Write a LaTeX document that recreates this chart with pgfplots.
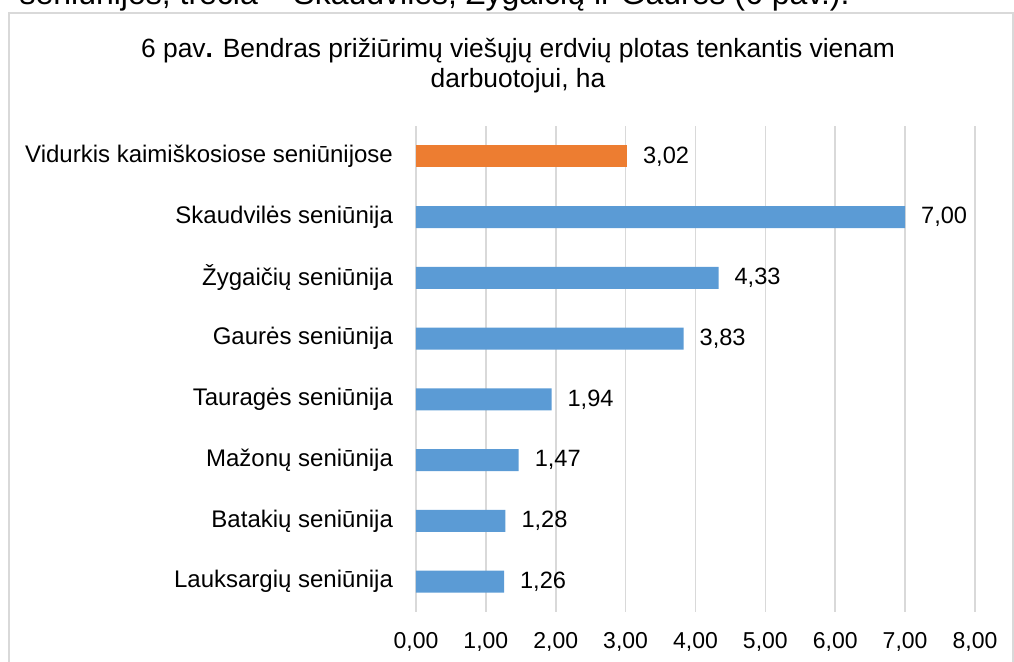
\documentclass[border=0pt]{standalone}
\usepackage{fontspec}
\setmainfont{Liberation Sans}
\usepackage{pgfplots}
\pgfplotsset{compat=1.18}
\definecolor{BarBlue}{HTML}{5B9BD5}
\definecolor{BarOrange}{HTML}{ED7D31}
\definecolor{GridGray}{HTML}{D9D9D9}
\begin{document}
\fontsize{11.5}{13.8}\selectfont
\begin{tikzpicture}[x=1pt,y=1pt]
\useasboundingbox (0,0) rectangle (507,331);
\begin{scope}
  \clip (0,0) rectangle (507,331);
  \draw[GridGray, line width=1pt] (4.5,-10) -- (4.5,324.5) -- (506.5,324.5) -- (506.5,-10);
  \node[anchor=base east, inner sep=0pt, font=\fontsize{16}{19}\selectfont] at (425,328.5)
    {seniūnijos, trečia – Skaudvilės, Žygaičių ir Gaurės (6 pav.).};
\end{scope}
\node[anchor=base, inner sep=0pt, font=\fontsize{13.2}{15.8}\selectfont] at (259,302)
  {6 pav\textbf{.} Bendras prižiūrimų viešųjų erdvių plotas tenkantis vienam};
\node[anchor=base, inner sep=0pt, font=\fontsize{13.2}{15.8}\selectfont] at (259,287) {darbuotojui, ha};
\begin{axis}[
  at={(208pt,25pt)}, anchor=south west,
  scale only axis,
  width=279.5pt, height=243pt,
  xbar, bar width=11pt, bar shift=0pt,
  xmin=0, xmax=8, ymin=-0.5, ymax=7.5,
  axis line style={draw=none},
  major tick length=0pt,
  xmajorgrids,
  grid style={GridGray, line width=0.8pt},
  xtick={0,1,...,8},
  ytick={0,1,...,7},
  yticklabels={Lauksargių seniūnija, Batakių seniūnija, Mažonų seniūnija,
    Tauragės seniūnija, Gaurės seniūnija, Žygaičių seniūnija,
    Skaudvilės seniūnija, Vidurkis kaimiškosiose seniūnijose},
  yticklabel style={xshift=-7.5pt, font=\fontsize{12}{14.4}\selectfont},
  xticklabel style={yshift=-6.2pt},
  /pgf/number format/.cd, use comma, fixed, fixed zerofill, precision=2,
    assume math mode=true,
  /pgfplots/.cd,
  nodes near coords,
  nodes near coords style={anchor=west, xshift=4pt, text=black, font=\fontsize{11.8}{14}\selectfont},
  every axis plot/.append style={draw=none},
]
\addplot[fill=BarBlue] coordinates {(1.26,0) (1.28,1) (1.47,2) (1.94,3) (3.83,4) (4.33,5) (7.00,6)};
\addplot[fill=BarOrange] coordinates {(3.02,7)};
\end{axis}
\end{tikzpicture}
\end{document}
